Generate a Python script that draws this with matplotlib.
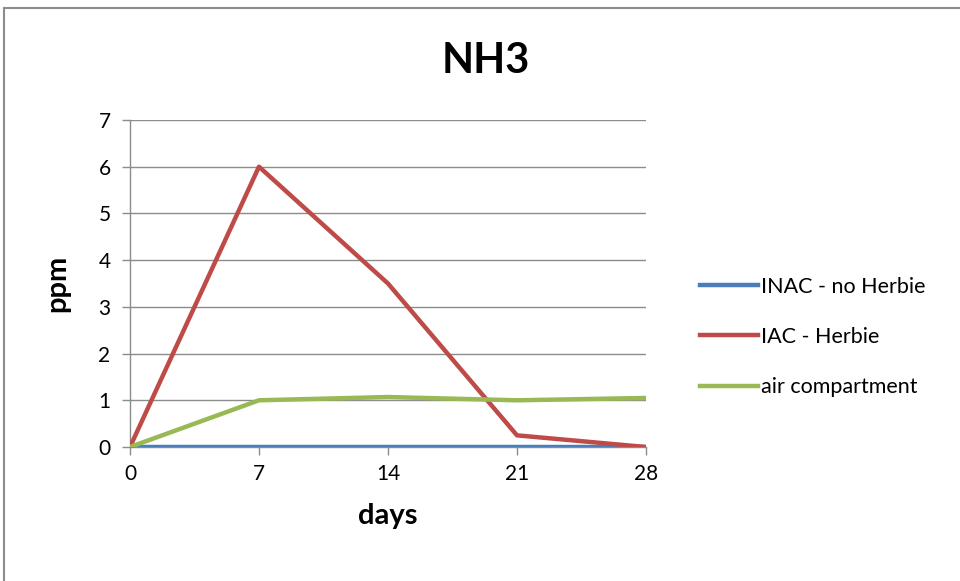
import matplotlib.pyplot as plt
from matplotlib.patches import Rectangle

days = [0, 7, 14, 21, 28]
inac_no_herbie = [0, 0, 0, 0, 0]
iac_herbie = [0, 6.0, 3.5, 0.25, 0]
air_compartment = [0, 1.0, 1.07, 1.0, 1.05]
yticks = [0, 1, 2, 3, 4, 5, 6, 7]

plt.rcParams['font.family'] = ['Lato', 'DejaVu Sans']

fig = plt.figure(figsize=(9.6, 5.81), dpi=100)
ax = fig.add_axes([0.1354, 0.2306, 0.5375, 0.5629])

# cadre gris autour du graphique (comme Excel)
fig.patches.append(Rectangle((0.004, -0.05), 1.1, 1.036, transform=fig.transFigure,
                             fill=False, edgecolor="#8c8c8c", linewidth=1.5))

ax.plot(days, inac_no_herbie, color="#4A7EBB", lw=3.2, label="INAC - no Herbie", zorder=3)
ax.plot(days, iac_herbie, color="#BE4B48", lw=3.2, label="IAC - Herbie", zorder=4)
ax.plot(days, air_compartment, color="#98B954", lw=3.2, label="air compartment", zorder=5)

ax.set_xlim(0, 28)
ax.set_ylim(0, 7)
ax.set_xticks(days)
ax.set_yticks(yticks)
ax.grid(axis="y", color="#8c8c8c", lw=1)
ax.set_axisbelow(True)
for s in ["top", "right"]:
    ax.spines[s].set_visible(False)
for s in ["left", "bottom"]:
    ax.spines[s].set_color("#8c8c8c")
    ax.spines[s].set_linewidth(1)
ax.tick_params(axis="both", colors="#8c8c8c", labelcolor="black", labelsize=15, length=6, width=1)
ax.tick_params(axis="y", pad=8)
ax.tick_params(axis="x", pad=6)

ax.set_xlabel("days", fontsize=21, fontweight="bold", labelpad=14)
ax.set_ylabel("ppm", fontsize=21, fontweight="bold", labelpad=20)
fig.text(0.506, 0.895, "NH3", fontsize=30, fontweight="bold", ha="center", va="center")

fig.legend(loc="center left", bbox_to_anchor=(0.709, 0.42), frameon=False, fontsize=15.5,
           handlelength=2.7, handletextpad=0.15, labelspacing=1.4)

fig.savefig("out.png", dpi=100)
